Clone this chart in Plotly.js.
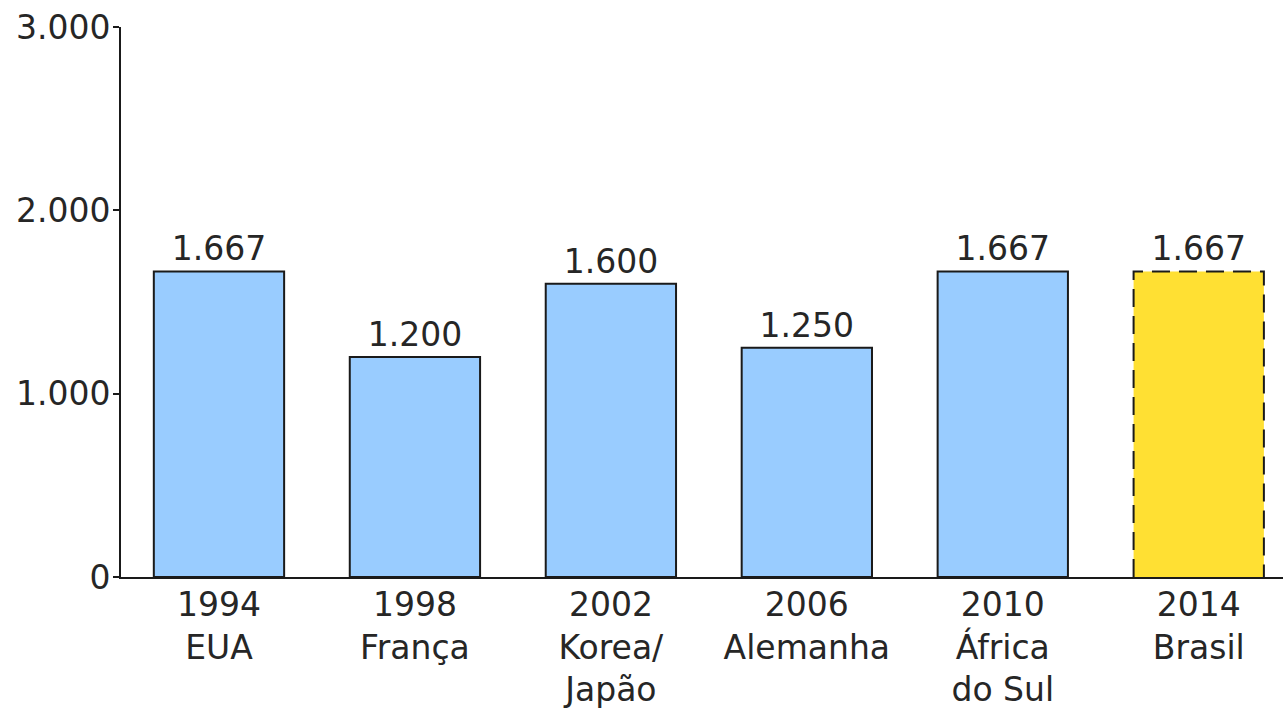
<!DOCTYPE html>
<html>
<head>
<meta charset="utf-8">
<script src="https://cdn.plot.ly/plotly-3.0.1.min.js"></script>
<style>html,body{margin:0;padding:0;background:#fff;}#chart{width:1283px;height:710px;}</style>
</head>
<body>
<div id="chart"></div>
<script>
const years = ["1994", "1998", "2002", "2006", "2010", "2014"];
const hosts = ["EUA", "França", "Korea/<br>Japão", "Alemanha", "África<br>do Sul", "Brasil"];
const values = [1667, 1200, 1600, 1250, 1667, 1667];
const barColors = ["#99ccff", "#99ccff", "#99ccff", "#99ccff", "#99ccff", "#ffe033"];
const dashedIndex = 5;
const yTicks = [0, 1000, 2000, 3000];

const idx = years.map((_, i) => i);
const tickText = years.map((y, i) => y + "<br>" + hosts[i]);
const barWidth = 0.665;

const lineColors = idx.map(i => i === dashedIndex ? "rgba(0,0,0,0)" : "#1a1a1a");

const bars = {
  type: "bar",
  x: idx,
  y: values,
  width: barWidth,
  marker: {color: barColors, line: {color: lineColors, width: 2}},
  text: values,
  texttemplate: "%{y:,.0f}",
  textposition: "outside",
  cliponaxis: false,
  textfont: {family: "DejaVu Sans, Verdana, sans-serif", size: 33, color: "#262626"},
  hoverinfo: "skip",
  showlegend: false
};

const dx = barWidth / 2;
const dv = values[dashedIndex];
const di = dashedIndex;
const dashed = {
  type: "scatter",
  mode: "lines",
  x: [di - dx, di - dx, di + dx, di + dx],
  y: [0, dv, dv, 0],
  line: {color: "#1a1a1a", width: 2, dash: "18px,9px"},
  hoverinfo: "skip",
  showlegend: false,
  cliponaxis: false
};

const layout = {
  width: 1283,
  height: 710,
  margin: {l: 121, r: 0, t: 27, b: 133},
  paper_bgcolor: "#ffffff",
  plot_bgcolor: "#ffffff",
  separators: ",.",
  font: {family: "DejaVu Sans, Verdana, sans-serif", size: 33, color: "#262626"},
  xaxis: {
    type: "linear",
    range: [-0.5, 5.43],
    tickmode: "array",
    tickvals: idx,
    ticktext: tickText,
    ticklabelstandoff: -3,
    showline: true,
    linecolor: "#1a1a1a",
    linewidth: 2,
    ticks: "",
    showgrid: false,
    zeroline: false,
    fixedrange: true
  },
  yaxis: {
    range: [0, 3000],
    tickmode: "array",
    tickvals: yTicks,
    tickformat: ",.0f",
    ticklabelstandoff: -4,
    ticks: "outside",
    ticklen: 6,
    tickwidth: 2,
    tickcolor: "#1a1a1a",
    showline: true,
    linecolor: "#1a1a1a",
    linewidth: 2,
    showgrid: false,
    zeroline: false,
    fixedrange: true
  },
  bargap: 0.3
};

Plotly.newPlot("chart", [bars, dashed], layout, {displayModeBar: false, staticPlot: true});
</script>
</body>
</html>
